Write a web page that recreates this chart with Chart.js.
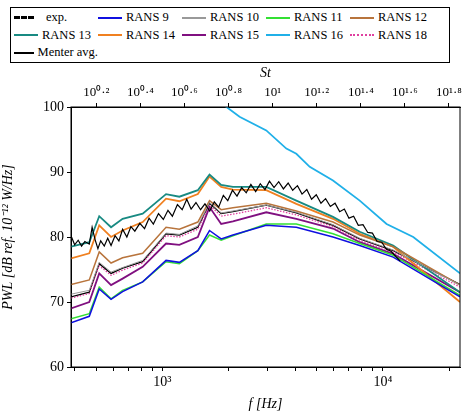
<!DOCTYPE html><html><head><meta charset="utf-8">
<script src="https://cdn.jsdelivr.net/npm/chart.js@4"></script>
<style>
body{margin:0;background:#fff;font-family:"Liberation Serif",serif}
#wrap{position:relative;width:474px;height:413px}
#leg{position:absolute;left:10px;top:7px;width:440px;height:56px;border:1px solid #000;font-size:12.5px;display:grid;grid-template-columns:84px 84px 84px 84px 90px;grid-auto-rows:17.5px;padding:1px 3px;box-sizing:border-box;background:#fff}
#leg div{display:flex;align-items:center;white-space:nowrap;overflow:visible}
#leg span.l{display:inline-block;width:24px;margin-right:4px;height:0}
</style></head><body><div id="wrap"><canvas id="c" width="474" height="413"></canvas><div id="leg"></div></div>
<script>
const F=[385,466,517,585,660,814,1039,1194,1448,1636,1848,2089,2960,4052,5942,7857,11140,22390];
const rans9 =[66.8,67.8,72.0,70.4,71.6,73.1,76.4,76.1,77.9,81.0,79.7,80.3,81.8,81.5,80.0,78.7,76.9,70.8];
const rans10=[71.2,71.8,76.1,74.6,75.3,76.4,80.6,80.4,81.7,85.3,83.7,84.0,84.9,83.8,81.9,79.8,78.0,72.6];
const rans11=[67.4,68.2,72.3,70.5,71.8,73.1,76.2,75.9,77.9,80.3,79.5,80.2,82.0,82.0,80.5,79.0,77.2,71.0];
const rans12=[72.7,73.4,77.7,76.0,76.8,77.5,81.5,81.2,82.3,85.6,84.2,84.5,85.2,84.0,82.3,80.3,78.5,72.6];
const rans13=[78.5,79.2,83.2,81.5,82.8,83.6,86.6,86.2,87.2,89.6,88.0,87.7,87.7,85.6,83.1,80.8,78.7,71.5];
const rans14=[76.7,77.5,81.8,80.0,81.0,82.3,85.9,85.5,86.6,89.3,87.7,87.3,87.2,85.1,82.8,80.5,78.5,70.0];
const rans15=[69.0,70.0,74.4,72.6,73.6,75.4,79.0,78.8,80.0,84.6,82.0,82.4,83.8,82.8,81.3,79.2,77.4,71.5];
const rans18=[70.6,71.3,75.6,74.1,74.9,76.0,80.2,80.0,81.2,84.9,83.2,83.5,84.5,83.4,81.6,79.5,77.7,72.3];
const menter=[70.8,71.5,75.9,74.4,75.2,76.2,80.5,80.3,81.5,85.2,83.6,83.9,84.9,83.7,81.8,79.7,77.9,72.7];
const F16=[1816,2239,2960,3650,4052,4660,5942,7857,10400,13740,22390];
const rans16=[100.8,98.5,96.4,93.6,92.8,90.8,88.7,85.6,82.0,80.0,74.4];
const Fexp=[385,400,415,430,445,466,480,495,510,525,545,565,585,610,635,660,690,720,750,790,830,870,910,960,1010,1060,1110,1170,1230,1290,1350,1420,1490,1560,1640,1720,1800,1890,1980,2080,2180,2290,2400,2520,2650,2780,2920,3060,3210,3370,3540,3720,3900,4100,4300,4520,4750,4990,5240,5500,5780,6070,6370,6690,7020,7370,7740,8130,8540,8970,9420,9890,10380,10900,11450,12000];
const expV=[80.2,78.8,79.5,78.6,79.3,78.9,81.5,79.6,78.2,79.4,78.6,79.8,78.7,80.2,79.4,81.2,80.0,81.6,80.9,82.1,81.3,82.9,82.0,83.6,82.7,84.1,83.2,85.0,84.2,85.8,84.3,85.3,84.2,85.1,84.0,85.4,84.6,86.4,85.6,87.2,86.3,87.6,86.8,88.1,87.0,88.2,87.3,88.6,87.6,88.5,87.4,88.3,87.2,87.9,86.6,87.3,85.8,86.5,85.2,85.9,84.7,85.2,83.9,84.3,82.9,83.2,81.8,81.9,80.7,80.6,79.3,79.2,78.1,77.8,77.0,76.3];
const stLabels=['10⁰·²','10⁰·⁴','10⁰·⁶','10⁰·⁸','10¹','10¹·²','10¹·⁴','10¹·⁶','10¹·⁸'];
const stTicks=[0.2,0.4,0.6,0.8,1.0,1.2,1.4,1.6,1.8].map(e=>Math.pow(10,e));
const fMinor=[400,500,600,700,800,900,1000,2000,3000,4000,5000,6000,7000,8000,9000,10000,20000];
const yTicks=[60,70,80,90,100];

const pts=(xs,ys)=>xs.map((x,i)=>({x,y:ys[i]}));
const series=[
 ['exp.',Fexp,expV,'#000',1.2,[],'dash'],
 ['RANS 9',F,rans9,'#1010e0',1.5,[]],
 ['RANS 10',F,rans10,'#999',1,[]],
 ['RANS 11',F,rans11,'#33e033',1.5,[]],
 ['RANS 12',F,rans12,'#b8743c',1.5,[]],
 ['RANS 13',F,rans13,'#188a82',1.8,[]],
 ['RANS 14',F,rans14,'#f08020',1.8,[]],
 ['RANS 15',F,rans15,'#801080',1.8,[]],
 ['RANS 16',F16,rans16,'#20b0e8',1.8,[]],
 ['RANS 18',F,rans18,'#e040a0',1.3,[1.5,1.5]],
 ['Menter avg.',F,menter,'#000',1.3,[]]
];
const ds=series.map(s=>({label:s[0],data:pts(s[1],s[2]),borderColor:s[3],borderWidth:s[4],borderDash:s[5],pointRadius:0,fill:false,tension:0}));
ds[0].order=-1;
const leg=document.getElementById('leg');
series.forEach(s=>{const d=document.createElement('div');const l=document.createElement('span');l.className='l';
 if(s[6]==='dash'){l.style.borderTop='3px dashed #000';l.style.width='20px';l.style.marginRight='12px'}
 else if(s[5].length){l.style.borderTop='2px dotted '+s[3]}
 else l.style.borderTop='2px solid '+s[3];
 d.appendChild(l);d.appendChild(document.createTextNode(s[0]));leg.appendChild(d);});
const font={family:'Liberation Serif',size:14};
const frame={id:'frame',afterDraw(c){const a=c.chartArea,x=c.ctx;x.save();x.strokeStyle='#000';x.lineWidth=1;x.strokeRect(a.left,a.top,a.right-a.left,a.bottom-a.top);x.restore();}};
new Chart(document.getElementById('c'),{type:'line',data:{datasets:ds},plugins:[frame],
options:{responsive:false,animation:false,clip:true,
 layout:{padding:{top:65,right:14,bottom:0,left:0}},
 plugins:{legend:{display:false},tooltip:{enabled:false}},
 scales:{
  x:{type:'logarithmic',position:'bottom',min:385,max:22390,
   afterBuildTicks:s=>{s.ticks=fMinor.map(v=>({value:v}))},
   afterFit:s=>{s.height=46},
   ticks:{color:'#000',font,autoSkip:false,maxRotation:0,callback:v=>v===1000?'10³':v===10000?'10⁴':''},
   grid:{drawOnChartArea:false,tickLength:4,color:'#000'},border:{color:'#000'},
   title:{display:true,text:'f [Hz]',font:{...font,style:'italic'},color:'#000',padding:0}},
  st:{type:'logarithmic',position:'top',min:385/316.2,max:22390/316.2,
   afterBuildTicks:s=>{s.ticks=stTicks.map(v=>({value:v}))},
   afterFit:s=>{s.height=42},
   ticks:{color:'#000',font:{...font,size:13},autoSkip:false,maxRotation:0,callback:(v,i)=>stLabels[i]},
   grid:{drawOnChartArea:false,tickLength:4,color:'#000'},border:{color:'#000'},
   title:{display:true,text:'St',font:{...font,style:'italic'},color:'#000',padding:{top:0,bottom:2}}},
  y:{min:60,max:100,afterBuildTicks:s=>{s.ticks=yTicks.map(v=>({value:v}))},
   afterFit:s=>{s.width=71},
   ticks:{color:'#000',font},
   grid:{drawOnChartArea:false,tickLength:4,color:'#000'},border:{color:'#000'},
   title:{display:true,text:'PWL [dB ref. 10⁻¹² W/Hz]',font:{...font,style:'italic'},color:'#000',padding:0}}
 }}});
</script></body></html>
